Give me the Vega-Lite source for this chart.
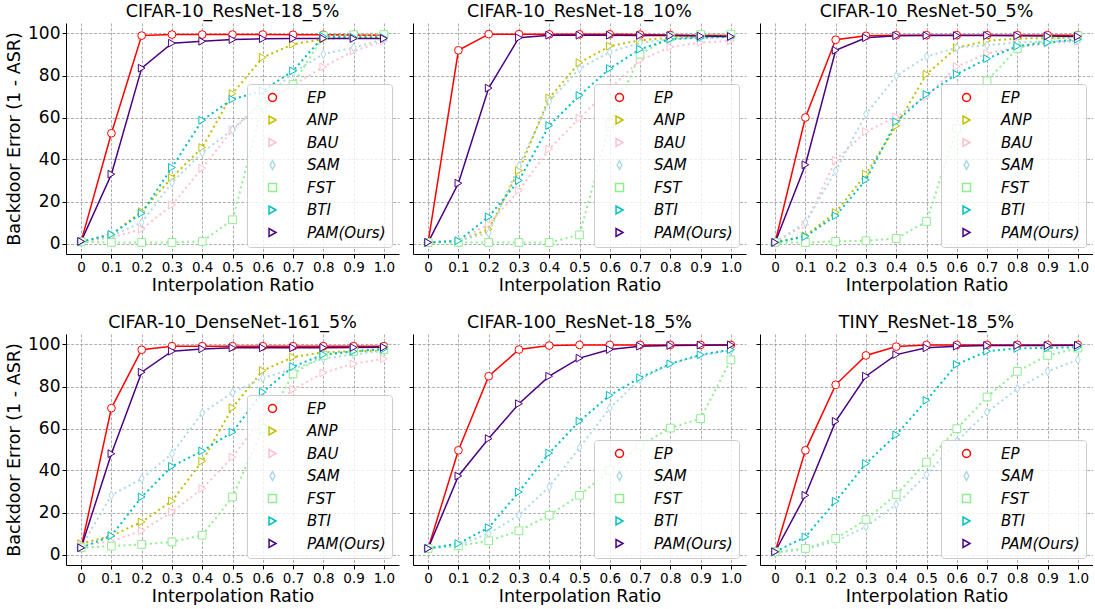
{
"$schema": "https://vega.github.io/schema/vega-lite/v6.json",
"padding": {"left": 5, "top": 2, "right": 0, "bottom": 0},
"bounds": "flush",
"columns": 3,
"spacing": {"row": 80, "column": 14},
"data": {"values": [
{"p":1,"m":"EP","x":0,"y":1},{"p":1,"m":"EP","x":0.1,"y":52.5},{"p":1,"m":"EP","x":0.2,"y":99},{"p":1,"m":"EP","x":0.3,"y":99.5},{"p":1,"m":"EP","x":0.4,"y":99.5},{"p":1,"m":"EP","x":0.5,"y":99.5},{"p":1,"m":"EP","x":0.6,"y":99.5},{"p":1,"m":"EP","x":0.7,"y":99.4},{"p":1,"m":"EP","x":0.8,"y":99.4},{"p":1,"m":"EP","x":0.9,"y":99.3},{"p":1,"m":"EP","x":1,"y":99.2},
{"p":1,"m":"ANP","x":0,"y":0.8},{"p":1,"m":"ANP","x":0.1,"y":4.3},{"p":1,"m":"ANP","x":0.2,"y":15.2},{"p":1,"m":"ANP","x":0.3,"y":31.4},{"p":1,"m":"ANP","x":0.4,"y":45.7},{"p":1,"m":"ANP","x":0.5,"y":71.4},{"p":1,"m":"ANP","x":0.6,"y":88.6},{"p":1,"m":"ANP","x":0.7,"y":94.9},{"p":1,"m":"ANP","x":0.8,"y":97.3},{"p":1,"m":"ANP","x":0.9,"y":98.2},{"p":1,"m":"ANP","x":1,"y":98.6},
{"p":1,"m":"BAU","x":0,"y":0.8},{"p":1,"m":"BAU","x":0.1,"y":2.9},{"p":1,"m":"BAU","x":0.2,"y":6.8},{"p":1,"m":"BAU","x":0.3,"y":18.3},{"p":1,"m":"BAU","x":0.4,"y":35.9},{"p":1,"m":"BAU","x":0.5,"y":54.1},{"p":1,"m":"BAU","x":0.6,"y":67.1},{"p":1,"m":"BAU","x":0.7,"y":75.4},{"p":1,"m":"BAU","x":0.8,"y":84.1},{"p":1,"m":"BAU","x":0.9,"y":91.7},{"p":1,"m":"BAU","x":1,"y":96.5},
{"p":1,"m":"SAM","x":0,"y":0.8},{"p":1,"m":"SAM","x":0.1,"y":3.7},{"p":1,"m":"SAM","x":0.2,"y":10},{"p":1,"m":"SAM","x":0.3,"y":29},{"p":1,"m":"SAM","x":0.4,"y":43.3},{"p":1,"m":"SAM","x":0.5,"y":54.1},{"p":1,"m":"SAM","x":0.6,"y":68},{"p":1,"m":"SAM","x":0.7,"y":81.4},{"p":1,"m":"SAM","x":0.8,"y":90.2},{"p":1,"m":"SAM","x":0.9,"y":93.3},{"p":1,"m":"SAM","x":1,"y":97.3},
{"p":1,"m":"FST","x":0,"y":0.8},{"p":1,"m":"FST","x":0.1,"y":0.5},{"p":1,"m":"FST","x":0.2,"y":0.5},{"p":1,"m":"FST","x":0.3,"y":0.5},{"p":1,"m":"FST","x":0.4,"y":1},{"p":1,"m":"FST","x":0.5,"y":11.3},{"p":1,"m":"FST","x":0.6,"y":66},{"p":1,"m":"FST","x":0.7,"y":75.7},{"p":1,"m":"FST","x":0.8,"y":98.9},{"p":1,"m":"FST","x":0.9,"y":99.4},{"p":1,"m":"FST","x":1,"y":99.5},
{"p":1,"m":"BTI","x":0,"y":0.8},{"p":1,"m":"BTI","x":0.1,"y":4.3},{"p":1,"m":"BTI","x":0.2,"y":14.4},{"p":1,"m":"BTI","x":0.3,"y":36.2},{"p":1,"m":"BTI","x":0.4,"y":58.7},{"p":1,"m":"BTI","x":0.5,"y":68.7},{"p":1,"m":"BTI","x":0.6,"y":72.7},{"p":1,"m":"BTI","x":0.7,"y":82.2},{"p":1,"m":"BTI","x":0.8,"y":98.6},{"p":1,"m":"BTI","x":0.9,"y":98.2},{"p":1,"m":"BTI","x":1,"y":98},
{"p":1,"m":"PAM(Ours)","x":0,"y":1},{"p":1,"m":"PAM(Ours)","x":0.1,"y":33},{"p":1,"m":"PAM(Ours)","x":0.2,"y":83.5},{"p":1,"m":"PAM(Ours)","x":0.3,"y":95.4},{"p":1,"m":"PAM(Ours)","x":0.4,"y":96.3},{"p":1,"m":"PAM(Ours)","x":0.5,"y":97.1},{"p":1,"m":"PAM(Ours)","x":0.6,"y":97.5},{"p":1,"m":"PAM(Ours)","x":0.7,"y":97.6},{"p":1,"m":"PAM(Ours)","x":0.8,"y":97.6},{"p":1,"m":"PAM(Ours)","x":0.9,"y":97.6},{"p":1,"m":"PAM(Ours)","x":1,"y":97.6},
{"p":2,"m":"EP","x":0,"y":0.5},{"p":2,"m":"EP","x":0.1,"y":92},{"p":2,"m":"EP","x":0.2,"y":99.7},{"p":2,"m":"EP","x":0.3,"y":99.7},{"p":2,"m":"EP","x":0.4,"y":99.6},{"p":2,"m":"EP","x":0.5,"y":99.6},{"p":2,"m":"EP","x":0.6,"y":99.6},{"p":2,"m":"EP","x":0.7,"y":99.5},{"p":2,"m":"EP","x":0.8,"y":99.3},{"p":2,"m":"EP","x":0.9,"y":99.2},{"p":2,"m":"EP","x":1,"y":99},
{"p":2,"m":"ANP","x":0,"y":0.5},{"p":2,"m":"ANP","x":0.1,"y":1},{"p":2,"m":"ANP","x":0.2,"y":6.8},{"p":2,"m":"ANP","x":0.3,"y":34.7},{"p":2,"m":"ANP","x":0.4,"y":69.3},{"p":2,"m":"ANP","x":0.5,"y":86.1},{"p":2,"m":"ANP","x":0.6,"y":94},{"p":2,"m":"ANP","x":0.7,"y":96.8},{"p":2,"m":"ANP","x":0.8,"y":98},{"p":2,"m":"ANP","x":0.9,"y":98.3},{"p":2,"m":"ANP","x":1,"y":98.7},
{"p":2,"m":"BAU","x":0,"y":0.5},{"p":2,"m":"BAU","x":0.1,"y":1.3},{"p":2,"m":"BAU","x":0.2,"y":9.2},{"p":2,"m":"BAU","x":0.3,"y":25.2},{"p":2,"m":"BAU","x":0.4,"y":45},{"p":2,"m":"BAU","x":0.5,"y":59.7},{"p":2,"m":"BAU","x":0.6,"y":73.7},{"p":2,"m":"BAU","x":0.7,"y":87.3},{"p":2,"m":"BAU","x":0.8,"y":93.6},{"p":2,"m":"BAU","x":0.9,"y":95.7},{"p":2,"m":"BAU","x":1,"y":96.5},
{"p":2,"m":"SAM","x":0,"y":0.5},{"p":2,"m":"SAM","x":0.1,"y":1.3},{"p":2,"m":"SAM","x":0.2,"y":5},{"p":2,"m":"SAM","x":0.3,"y":37},{"p":2,"m":"SAM","x":0.4,"y":67.8},{"p":2,"m":"SAM","x":0.5,"y":83.3},{"p":2,"m":"SAM","x":0.6,"y":91.2},{"p":2,"m":"SAM","x":0.7,"y":95.5},{"p":2,"m":"SAM","x":0.8,"y":97.3},{"p":2,"m":"SAM","x":0.9,"y":98},{"p":2,"m":"SAM","x":1,"y":98.3},
{"p":2,"m":"FST","x":0,"y":0.5},{"p":2,"m":"FST","x":0.1,"y":0.5},{"p":2,"m":"FST","x":0.2,"y":0.5},{"p":2,"m":"FST","x":0.3,"y":0.5},{"p":2,"m":"FST","x":0.4,"y":0.5},{"p":2,"m":"FST","x":0.5,"y":4.1},{"p":2,"m":"FST","x":0.6,"y":57},{"p":2,"m":"FST","x":0.7,"y":90.1},{"p":2,"m":"FST","x":0.8,"y":98.4},{"p":2,"m":"FST","x":0.9,"y":99.5},{"p":2,"m":"FST","x":1,"y":99.7},
{"p":2,"m":"BTI","x":0,"y":0.5},{"p":2,"m":"BTI","x":0.1,"y":1.3},{"p":2,"m":"BTI","x":0.2,"y":12.7},{"p":2,"m":"BTI","x":0.3,"y":30},{"p":2,"m":"BTI","x":0.4,"y":56.2},{"p":2,"m":"BTI","x":0.5,"y":70.5},{"p":2,"m":"BTI","x":0.6,"y":83.3},{"p":2,"m":"BTI","x":0.7,"y":92.5},{"p":2,"m":"BTI","x":0.8,"y":97.3},{"p":2,"m":"BTI","x":0.9,"y":98},{"p":2,"m":"BTI","x":1,"y":98.4},
{"p":2,"m":"PAM(Ours)","x":0,"y":0.5},{"p":2,"m":"PAM(Ours)","x":0.1,"y":28.7},{"p":2,"m":"PAM(Ours)","x":0.2,"y":74},{"p":2,"m":"PAM(Ours)","x":0.3,"y":98},{"p":2,"m":"PAM(Ours)","x":0.4,"y":99.2},{"p":2,"m":"PAM(Ours)","x":0.5,"y":99.2},{"p":2,"m":"PAM(Ours)","x":0.6,"y":99.2},{"p":2,"m":"PAM(Ours)","x":0.7,"y":99.1},{"p":2,"m":"PAM(Ours)","x":0.8,"y":99},{"p":2,"m":"PAM(Ours)","x":0.9,"y":98.8},{"p":2,"m":"PAM(Ours)","x":1,"y":98.6},
{"p":3,"m":"EP","x":0,"y":0.5},{"p":3,"m":"EP","x":0.1,"y":60},{"p":3,"m":"EP","x":0.2,"y":97},{"p":3,"m":"EP","x":0.3,"y":98.9},{"p":3,"m":"EP","x":0.4,"y":99.2},{"p":3,"m":"EP","x":0.5,"y":99.2},{"p":3,"m":"EP","x":0.6,"y":99.2},{"p":3,"m":"EP","x":0.7,"y":99.2},{"p":3,"m":"EP","x":0.8,"y":99.2},{"p":3,"m":"EP","x":0.9,"y":99.2},{"p":3,"m":"EP","x":1,"y":99.2},
{"p":3,"m":"ANP","x":0,"y":0.5},{"p":3,"m":"ANP","x":0.1,"y":3.7},{"p":3,"m":"ANP","x":0.2,"y":14.8},{"p":3,"m":"ANP","x":0.3,"y":33},{"p":3,"m":"ANP","x":0.4,"y":56},{"p":3,"m":"ANP","x":0.5,"y":80.6},{"p":3,"m":"ANP","x":0.6,"y":93.3},{"p":3,"m":"ANP","x":0.7,"y":96.5},{"p":3,"m":"ANP","x":0.8,"y":97.6},{"p":3,"m":"ANP","x":0.9,"y":97.8},{"p":3,"m":"ANP","x":1,"y":98.1},
{"p":3,"m":"BAU","x":0,"y":0.5},{"p":3,"m":"BAU","x":0.1,"y":9},{"p":3,"m":"BAU","x":0.2,"y":39.7},{"p":3,"m":"BAU","x":0.3,"y":53.3},{"p":3,"m":"BAU","x":0.4,"y":60.3},{"p":3,"m":"BAU","x":0.5,"y":70},{"p":3,"m":"BAU","x":0.6,"y":84.3},{"p":3,"m":"BAU","x":0.7,"y":90.5},{"p":3,"m":"BAU","x":0.8,"y":93.3},{"p":3,"m":"BAU","x":0.9,"y":95.4},{"p":3,"m":"BAU","x":1,"y":96.2},
{"p":3,"m":"SAM","x":0,"y":0.5},{"p":3,"m":"SAM","x":0.1,"y":10},{"p":3,"m":"SAM","x":0.2,"y":34.6},{"p":3,"m":"SAM","x":0.3,"y":61.6},{"p":3,"m":"SAM","x":0.4,"y":79.8},{"p":3,"m":"SAM","x":0.5,"y":89},{"p":3,"m":"SAM","x":0.6,"y":93.3},{"p":3,"m":"SAM","x":0.7,"y":94.4},{"p":3,"m":"SAM","x":0.8,"y":95.7},{"p":3,"m":"SAM","x":0.9,"y":96.2},{"p":3,"m":"SAM","x":1,"y":96.5},
{"p":3,"m":"FST","x":0,"y":0.5},{"p":3,"m":"FST","x":0.1,"y":0.5},{"p":3,"m":"FST","x":0.2,"y":1},{"p":3,"m":"FST","x":0.3,"y":1.3},{"p":3,"m":"FST","x":0.4,"y":2.4},{"p":3,"m":"FST","x":0.5,"y":10.5},{"p":3,"m":"FST","x":0.6,"y":54.8},{"p":3,"m":"FST","x":0.7,"y":77.5},{"p":3,"m":"FST","x":0.8,"y":92.9},{"p":3,"m":"FST","x":0.9,"y":97.3},{"p":3,"m":"FST","x":1,"y":98.9},
{"p":3,"m":"BTI","x":0,"y":0.5},{"p":3,"m":"BTI","x":0.1,"y":3.3},{"p":3,"m":"BTI","x":0.2,"y":13.2},{"p":3,"m":"BTI","x":0.3,"y":30.3},{"p":3,"m":"BTI","x":0.4,"y":58},{"p":3,"m":"BTI","x":0.5,"y":71},{"p":3,"m":"BTI","x":0.6,"y":80.6},{"p":3,"m":"BTI","x":0.7,"y":88},{"p":3,"m":"BTI","x":0.8,"y":94},{"p":3,"m":"BTI","x":0.9,"y":95.7},{"p":3,"m":"BTI","x":1,"y":97.3},
{"p":3,"m":"PAM(Ours)","x":0,"y":0.5},{"p":3,"m":"PAM(Ours)","x":0.1,"y":37.5},{"p":3,"m":"PAM(Ours)","x":0.2,"y":92},{"p":3,"m":"PAM(Ours)","x":0.3,"y":98},{"p":3,"m":"PAM(Ours)","x":0.4,"y":98.9},{"p":3,"m":"PAM(Ours)","x":0.5,"y":99},{"p":3,"m":"PAM(Ours)","x":0.6,"y":99},{"p":3,"m":"PAM(Ours)","x":0.7,"y":99},{"p":3,"m":"PAM(Ours)","x":0.8,"y":98.9},{"p":3,"m":"PAM(Ours)","x":0.9,"y":98.8},{"p":3,"m":"PAM(Ours)","x":1,"y":98.6},
{"p":4,"m":"EP","x":0,"y":3.2},{"p":4,"m":"EP","x":0.1,"y":69.7},{"p":4,"m":"EP","x":0.2,"y":97.5},{"p":4,"m":"EP","x":0.3,"y":99.2},{"p":4,"m":"EP","x":0.4,"y":99.2},{"p":4,"m":"EP","x":0.5,"y":99.2},{"p":4,"m":"EP","x":0.6,"y":99.2},{"p":4,"m":"EP","x":0.7,"y":99.2},{"p":4,"m":"EP","x":0.8,"y":99.2},{"p":4,"m":"EP","x":0.9,"y":99.2},{"p":4,"m":"EP","x":1,"y":99.2},
{"p":4,"m":"ANP","x":0,"y":5.2},{"p":4,"m":"ANP","x":0.1,"y":8.9},{"p":4,"m":"ANP","x":0.2,"y":15.5},{"p":4,"m":"ANP","x":0.3,"y":25.5},{"p":4,"m":"ANP","x":0.4,"y":44.4},{"p":4,"m":"ANP","x":0.5,"y":69.9},{"p":4,"m":"ANP","x":0.6,"y":87.6},{"p":4,"m":"ANP","x":0.7,"y":94},{"p":4,"m":"ANP","x":0.8,"y":96.3},{"p":4,"m":"ANP","x":0.9,"y":96.8},{"p":4,"m":"ANP","x":1,"y":97.1},
{"p":4,"m":"BAU","x":0,"y":4.4},{"p":4,"m":"BAU","x":0.1,"y":6.3},{"p":4,"m":"BAU","x":0.2,"y":11.3},{"p":4,"m":"BAU","x":0.3,"y":20.3},{"p":4,"m":"BAU","x":0.4,"y":31.4},{"p":4,"m":"BAU","x":0.5,"y":46.4},{"p":4,"m":"BAU","x":0.6,"y":65.4},{"p":4,"m":"BAU","x":0.7,"y":78.6},{"p":4,"m":"BAU","x":0.8,"y":86.5},{"p":4,"m":"BAU","x":0.9,"y":90.8},{"p":4,"m":"BAU","x":1,"y":93.2},
{"p":4,"m":"SAM","x":0,"y":3.6},{"p":4,"m":"SAM","x":0.1,"y":28.2},{"p":4,"m":"SAM","x":0.2,"y":36.1},{"p":4,"m":"SAM","x":0.3,"y":48},{"p":4,"m":"SAM","x":0.4,"y":67.4},{"p":4,"m":"SAM","x":0.5,"y":77},{"p":4,"m":"SAM","x":0.6,"y":84},{"p":4,"m":"SAM","x":0.7,"y":88.4},{"p":4,"m":"SAM","x":0.8,"y":93.2},{"p":4,"m":"SAM","x":0.9,"y":95.2},{"p":4,"m":"SAM","x":1,"y":97.1},
{"p":4,"m":"FST","x":0,"y":3.2},{"p":4,"m":"FST","x":0.1,"y":4},{"p":4,"m":"FST","x":0.2,"y":4.8},{"p":4,"m":"FST","x":0.3,"y":6},{"p":4,"m":"FST","x":0.4,"y":9.2},{"p":4,"m":"FST","x":0.5,"y":27.4},{"p":4,"m":"FST","x":0.6,"y":59.9},{"p":4,"m":"FST","x":0.7,"y":86},{"p":4,"m":"FST","x":0.8,"y":94.8},{"p":4,"m":"FST","x":0.9,"y":96.7},{"p":4,"m":"FST","x":1,"y":97.6},
{"p":4,"m":"BTI","x":0,"y":3.2},{"p":4,"m":"BTI","x":0.1,"y":8.9},{"p":4,"m":"BTI","x":0.2,"y":27.4},{"p":4,"m":"BTI","x":0.3,"y":42},{"p":4,"m":"BTI","x":0.4,"y":49.3},{"p":4,"m":"BTI","x":0.5,"y":58.3},{"p":4,"m":"BTI","x":0.6,"y":77.3},{"p":4,"m":"BTI","x":0.7,"y":89.5},{"p":4,"m":"BTI","x":0.8,"y":95.2},{"p":4,"m":"BTI","x":0.9,"y":96.8},{"p":4,"m":"BTI","x":1,"y":97.9},
{"p":4,"m":"PAM(Ours)","x":0,"y":3.2},{"p":4,"m":"PAM(Ours)","x":0.1,"y":48},{"p":4,"m":"PAM(Ours)","x":0.2,"y":86.8},{"p":4,"m":"PAM(Ours)","x":0.3,"y":96.8},{"p":4,"m":"PAM(Ours)","x":0.4,"y":97.9},{"p":4,"m":"PAM(Ours)","x":0.5,"y":98.4},{"p":4,"m":"PAM(Ours)","x":0.6,"y":98.4},{"p":4,"m":"PAM(Ours)","x":0.7,"y":98.4},{"p":4,"m":"PAM(Ours)","x":0.8,"y":98.5},{"p":4,"m":"PAM(Ours)","x":0.9,"y":98.6},{"p":4,"m":"PAM(Ours)","x":1,"y":98.7},
{"p":5,"m":"EP","x":0,"y":2.9},{"p":5,"m":"EP","x":0.1,"y":49.6},{"p":5,"m":"EP","x":0.2,"y":84.9},{"p":5,"m":"EP","x":0.3,"y":97.6},{"p":5,"m":"EP","x":0.4,"y":99.5},{"p":5,"m":"EP","x":0.5,"y":99.8},{"p":5,"m":"EP","x":0.6,"y":99.8},{"p":5,"m":"EP","x":0.7,"y":99.8},{"p":5,"m":"EP","x":0.8,"y":99.8},{"p":5,"m":"EP","x":0.9,"y":99.8},{"p":5,"m":"EP","x":1,"y":99.8},
{"p":5,"m":"SAM","x":0,"y":2.9},{"p":5,"m":"SAM","x":0.1,"y":4.4},{"p":5,"m":"SAM","x":0.2,"y":10},{"p":5,"m":"SAM","x":0.3,"y":18.7},{"p":5,"m":"SAM","x":0.4,"y":32.2},{"p":5,"m":"SAM","x":0.5,"y":50.9},{"p":5,"m":"SAM","x":0.6,"y":69.7},{"p":5,"m":"SAM","x":0.7,"y":83.4},{"p":5,"m":"SAM","x":0.8,"y":90.8},{"p":5,"m":"SAM","x":0.9,"y":94.8},{"p":5,"m":"SAM","x":1,"y":97.1},
{"p":5,"m":"FST","x":0,"y":2.9},{"p":5,"m":"FST","x":0.1,"y":4.1},{"p":5,"m":"FST","x":0.2,"y":6.5},{"p":5,"m":"FST","x":0.3,"y":11.3},{"p":5,"m":"FST","x":0.4,"y":18.7},{"p":5,"m":"FST","x":0.5,"y":28.2},{"p":5,"m":"FST","x":0.6,"y":40.1},{"p":5,"m":"FST","x":0.7,"y":52},{"p":5,"m":"FST","x":0.8,"y":60.2},{"p":5,"m":"FST","x":0.9,"y":64.7},{"p":5,"m":"FST","x":1,"y":92.7},
{"p":5,"m":"BTI","x":0,"y":2.9},{"p":5,"m":"BTI","x":0.1,"y":5.2},{"p":5,"m":"BTI","x":0.2,"y":12.8},{"p":5,"m":"BTI","x":0.3,"y":29.8},{"p":5,"m":"BTI","x":0.4,"y":48.3},{"p":5,"m":"BTI","x":0.5,"y":63.5},{"p":5,"m":"BTI","x":0.6,"y":75.8},{"p":5,"m":"BTI","x":0.7,"y":84.2},{"p":5,"m":"BTI","x":0.8,"y":90.8},{"p":5,"m":"BTI","x":0.9,"y":95.1},{"p":5,"m":"BTI","x":1,"y":97.5},
{"p":5,"m":"PAM(Ours)","x":0,"y":2.9},{"p":5,"m":"PAM(Ours)","x":0.1,"y":37.4},{"p":5,"m":"PAM(Ours)","x":0.2,"y":55.2},{"p":5,"m":"PAM(Ours)","x":0.3,"y":71.8},{"p":5,"m":"PAM(Ours)","x":0.4,"y":84.9},{"p":5,"m":"PAM(Ours)","x":0.5,"y":93.5},{"p":5,"m":"PAM(Ours)","x":0.6,"y":97.6},{"p":5,"m":"PAM(Ours)","x":0.7,"y":99.2},{"p":5,"m":"PAM(Ours)","x":0.8,"y":99.5},{"p":5,"m":"PAM(Ours)","x":0.9,"y":99.7},{"p":5,"m":"PAM(Ours)","x":1,"y":99.8},
{"p":6,"m":"EP","x":0,"y":1.3},{"p":6,"m":"EP","x":0.1,"y":49.6},{"p":6,"m":"EP","x":0.2,"y":80.8},{"p":6,"m":"EP","x":0.3,"y":94.8},{"p":6,"m":"EP","x":0.4,"y":99},{"p":6,"m":"EP","x":0.5,"y":99.8},{"p":6,"m":"EP","x":0.6,"y":99.8},{"p":6,"m":"EP","x":0.7,"y":99.8},{"p":6,"m":"EP","x":0.8,"y":99.8},{"p":6,"m":"EP","x":0.9,"y":99.8},{"p":6,"m":"EP","x":1,"y":99.8},
{"p":6,"m":"SAM","x":0,"y":0.8},{"p":6,"m":"SAM","x":0.1,"y":2.5},{"p":6,"m":"SAM","x":0.2,"y":6.3},{"p":6,"m":"SAM","x":0.3,"y":13.2},{"p":6,"m":"SAM","x":0.4,"y":23.8},{"p":6,"m":"SAM","x":0.5,"y":38},{"p":6,"m":"SAM","x":0.6,"y":53.9},{"p":6,"m":"SAM","x":0.7,"y":67.8},{"p":6,"m":"SAM","x":0.8,"y":78.9},{"p":6,"m":"SAM","x":0.9,"y":87.2},{"p":6,"m":"SAM","x":1,"y":92.7},
{"p":6,"m":"FST","x":0,"y":1.3},{"p":6,"m":"FST","x":0.1,"y":2.9},{"p":6,"m":"FST","x":0.2,"y":7.6},{"p":6,"m":"FST","x":0.3,"y":16.6},{"p":6,"m":"FST","x":0.4,"y":28.5},{"p":6,"m":"FST","x":0.5,"y":44},{"p":6,"m":"FST","x":0.6,"y":59.9},{"p":6,"m":"FST","x":0.7,"y":75},{"p":6,"m":"FST","x":0.8,"y":87.2},{"p":6,"m":"FST","x":0.9,"y":94.8},{"p":6,"m":"FST","x":1,"y":98.3},
{"p":6,"m":"BTI","x":0,"y":1.3},{"p":6,"m":"BTI","x":0.1,"y":8.4},{"p":6,"m":"BTI","x":0.2,"y":25.4},{"p":6,"m":"BTI","x":0.3,"y":43.3},{"p":6,"m":"BTI","x":0.4,"y":57},{"p":6,"m":"BTI","x":0.5,"y":73.4},{"p":6,"m":"BTI","x":0.6,"y":90.5},{"p":6,"m":"BTI","x":0.7,"y":96.8},{"p":6,"m":"BTI","x":0.8,"y":98.1},{"p":6,"m":"BTI","x":0.9,"y":98.4},{"p":6,"m":"BTI","x":1,"y":98.7},
{"p":6,"m":"PAM(Ours)","x":0,"y":1.3},{"p":6,"m":"PAM(Ours)","x":0.1,"y":28.2},{"p":6,"m":"PAM(Ours)","x":0.2,"y":63.4},{"p":6,"m":"PAM(Ours)","x":0.3,"y":84.9},{"p":6,"m":"PAM(Ours)","x":0.4,"y":95.2},{"p":6,"m":"PAM(Ours)","x":0.5,"y":98.4},{"p":6,"m":"PAM(Ours)","x":0.6,"y":99.2},{"p":6,"m":"PAM(Ours)","x":0.7,"y":99.5},{"p":6,"m":"PAM(Ours)","x":0.8,"y":99.5},{"p":6,"m":"PAM(Ours)","x":0.9,"y":99.5},{"p":6,"m":"PAM(Ours)","x":1,"y":99.6}
]},
"resolve": {"scale": {"x": "independent", "y": "independent", "color": "independent", "shape": "independent"}, "legend": {"color": "independent", "shape": "independent"}},
"concat": [
{"title": "CIFAR-10_ResNet-18_5%", "width": 333, "height": 231,
 "transform": [{"filter": "datum.p === 1"}],
 "encoding": {
  "x": {"field": "x", "type": "quantitative", "scale": {"domain": [-0.05, 1.05], "nice": false, "zero": false}, "axis": {"values": [0,0.1,0.2,0.3,0.4,0.5,0.6,0.7,0.8,0.9,1], "labelExpr": "datum.value === 0 ? '0' : format(datum.value, '.1f')", "title": "Interpolation Ratio"}},
  "y": {"field": "y", "type": "quantitative", "scale": {"domain": [-5, 105], "nice": false, "zero": false}, "axis": {"values": [0,20,40,60,80,100], "title": "Backdoor Error (1 - ASR)"}},
  "color": {"field": "m", "type": "nominal", "scale": {"domain": ["EP","ANP","BAU","SAM","FST","BTI","PAM(Ours)"], "range": ["#ff0000","#bfbf00","#ffc0cb","#add8e6","#90ee90","#00bfbf","#4b0082"]}}
 },
 "layer": [
  {"transform": [{"filter": "datum.m === 'EP'"}], "mark": {"type": "line", "strokeWidth": 1.5}},
  {"transform": [{"filter": "datum.m !== 'EP' && datum.m !== 'PAM(Ours)'"}], "mark": {"type": "line", "strokeWidth": 2, "strokeDash": [2, 3.3]}},
  {"transform": [{"filter": "datum.m === 'PAM(Ours)'"}], "mark": {"type": "line", "strokeWidth": 1.5}},
  {"mark": {"type": "point", "filled": false, "fill": "white", "opacity": 1, "strokeWidth": 1, "size": 60}, "encoding": {
    "color": {"field": "m", "type": "nominal", "scale": {"domain": ["EP","ANP","BAU","SAM","FST","BTI","PAM(Ours)"], "range": ["#ff0000","#bfbf00","#ffc0cb","#add8e6","#90ee90","#00bfbf","#4b0082"]}, "legend": {"title": null, "orient": "bottom-right", "offset": 7}},
    "shape": {"field": "m", "type": "nominal", "scale": {"domain": ["EP","ANP","BAU","SAM","FST","BTI","PAM(Ours)"], "range": ["circle","triangle-right","triangle-right","M0,-1.1L0.6,0L0,1.1L-0.6,0Z","square","triangle-right","triangle-right"]}, "legend": {"title": null, "orient": "bottom-right", "offset": 7}}
  }}
 ]},
{"title": "CIFAR-10_ResNet-18_10%", "width": 333, "height": 231,
 "transform": [{"filter": "datum.p === 2"}],
 "encoding": {
  "x": {"field": "x", "type": "quantitative", "scale": {"domain": [-0.05, 1.05], "nice": false, "zero": false}, "axis": {"values": [0,0.1,0.2,0.3,0.4,0.5,0.6,0.7,0.8,0.9,1], "labelExpr": "datum.value === 0 ? '0' : format(datum.value, '.1f')", "title": "Interpolation Ratio"}},
  "y": {"field": "y", "type": "quantitative", "scale": {"domain": [-5, 105], "nice": false, "zero": false}, "axis": {"values": [0,20,40,60,80,100], "title": null, "labels": false}},
  "color": {"field": "m", "type": "nominal", "scale": {"domain": ["EP","ANP","BAU","SAM","FST","BTI","PAM(Ours)"], "range": ["#ff0000","#bfbf00","#ffc0cb","#add8e6","#90ee90","#00bfbf","#4b0082"]}}
 },
 "layer": [
  {"transform": [{"filter": "datum.m === 'EP'"}], "mark": {"type": "line", "strokeWidth": 1.5}},
  {"transform": [{"filter": "datum.m !== 'EP' && datum.m !== 'PAM(Ours)'"}], "mark": {"type": "line", "strokeWidth": 2, "strokeDash": [2, 3.3]}},
  {"transform": [{"filter": "datum.m === 'PAM(Ours)'"}], "mark": {"type": "line", "strokeWidth": 1.5}},
  {"mark": {"type": "point", "filled": false, "fill": "white", "opacity": 1, "strokeWidth": 1, "size": 60}, "encoding": {
    "color": {"field": "m", "type": "nominal", "scale": {"domain": ["EP","ANP","BAU","SAM","FST","BTI","PAM(Ours)"], "range": ["#ff0000","#bfbf00","#ffc0cb","#add8e6","#90ee90","#00bfbf","#4b0082"]}, "legend": {"title": null, "orient": "bottom-right", "offset": 7}},
    "shape": {"field": "m", "type": "nominal", "scale": {"domain": ["EP","ANP","BAU","SAM","FST","BTI","PAM(Ours)"], "range": ["circle","triangle-right","triangle-right","M0,-1.1L0.6,0L0,1.1L-0.6,0Z","square","triangle-right","triangle-right"]}, "legend": {"title": null, "orient": "bottom-right", "offset": 7}}
  }}
 ]},
{"title": "CIFAR-10_ResNet-50_5%", "width": 333, "height": 231,
 "transform": [{"filter": "datum.p === 3"}],
 "encoding": {
  "x": {"field": "x", "type": "quantitative", "scale": {"domain": [-0.05, 1.05], "nice": false, "zero": false}, "axis": {"values": [0,0.1,0.2,0.3,0.4,0.5,0.6,0.7,0.8,0.9,1], "labelExpr": "datum.value === 0 ? '0' : format(datum.value, '.1f')", "title": "Interpolation Ratio"}},
  "y": {"field": "y", "type": "quantitative", "scale": {"domain": [-5, 105], "nice": false, "zero": false}, "axis": {"values": [0,20,40,60,80,100], "title": null, "labels": false}},
  "color": {"field": "m", "type": "nominal", "scale": {"domain": ["EP","ANP","BAU","SAM","FST","BTI","PAM(Ours)"], "range": ["#ff0000","#bfbf00","#ffc0cb","#add8e6","#90ee90","#00bfbf","#4b0082"]}}
 },
 "layer": [
  {"transform": [{"filter": "datum.m === 'EP'"}], "mark": {"type": "line", "strokeWidth": 1.5}},
  {"transform": [{"filter": "datum.m !== 'EP' && datum.m !== 'PAM(Ours)'"}], "mark": {"type": "line", "strokeWidth": 2, "strokeDash": [2, 3.3]}},
  {"transform": [{"filter": "datum.m === 'PAM(Ours)'"}], "mark": {"type": "line", "strokeWidth": 1.5}},
  {"mark": {"type": "point", "filled": false, "fill": "white", "opacity": 1, "strokeWidth": 1, "size": 60}, "encoding": {
    "color": {"field": "m", "type": "nominal", "scale": {"domain": ["EP","ANP","BAU","SAM","FST","BTI","PAM(Ours)"], "range": ["#ff0000","#bfbf00","#ffc0cb","#add8e6","#90ee90","#00bfbf","#4b0082"]}, "legend": {"title": null, "orient": "bottom-right", "offset": 7}},
    "shape": {"field": "m", "type": "nominal", "scale": {"domain": ["EP","ANP","BAU","SAM","FST","BTI","PAM(Ours)"], "range": ["circle","triangle-right","triangle-right","M0,-1.1L0.6,0L0,1.1L-0.6,0Z","square","triangle-right","triangle-right"]}, "legend": {"title": null, "orient": "bottom-right", "offset": 7}}
  }}
 ]},
{"title": "CIFAR-10_DenseNet-161_5%", "width": 333, "height": 231,
 "transform": [{"filter": "datum.p === 4"}],
 "encoding": {
  "x": {"field": "x", "type": "quantitative", "scale": {"domain": [-0.05, 1.05], "nice": false, "zero": false}, "axis": {"values": [0,0.1,0.2,0.3,0.4,0.5,0.6,0.7,0.8,0.9,1], "labelExpr": "datum.value === 0 ? '0' : format(datum.value, '.1f')", "title": "Interpolation Ratio"}},
  "y": {"field": "y", "type": "quantitative", "scale": {"domain": [-5, 105], "nice": false, "zero": false}, "axis": {"values": [0,20,40,60,80,100], "title": "Backdoor Error (1 - ASR)"}},
  "color": {"field": "m", "type": "nominal", "scale": {"domain": ["EP","ANP","BAU","SAM","FST","BTI","PAM(Ours)"], "range": ["#ff0000","#bfbf00","#ffc0cb","#add8e6","#90ee90","#00bfbf","#4b0082"]}}
 },
 "layer": [
  {"transform": [{"filter": "datum.m === 'EP'"}], "mark": {"type": "line", "strokeWidth": 1.5}},
  {"transform": [{"filter": "datum.m !== 'EP' && datum.m !== 'PAM(Ours)'"}], "mark": {"type": "line", "strokeWidth": 2, "strokeDash": [2, 3.3]}},
  {"transform": [{"filter": "datum.m === 'PAM(Ours)'"}], "mark": {"type": "line", "strokeWidth": 1.5}},
  {"mark": {"type": "point", "filled": false, "fill": "white", "opacity": 1, "strokeWidth": 1, "size": 60}, "encoding": {
    "color": {"field": "m", "type": "nominal", "scale": {"domain": ["EP","ANP","BAU","SAM","FST","BTI","PAM(Ours)"], "range": ["#ff0000","#bfbf00","#ffc0cb","#add8e6","#90ee90","#00bfbf","#4b0082"]}, "legend": {"title": null, "orient": "bottom-right", "offset": 7}},
    "shape": {"field": "m", "type": "nominal", "scale": {"domain": ["EP","ANP","BAU","SAM","FST","BTI","PAM(Ours)"], "range": ["circle","triangle-right","triangle-right","M0,-1.1L0.6,0L0,1.1L-0.6,0Z","square","triangle-right","triangle-right"]}, "legend": {"title": null, "orient": "bottom-right", "offset": 7}}
  }}
 ]},
{"title": "CIFAR-100_ResNet-18_5%", "width": 333, "height": 231,
 "transform": [{"filter": "datum.p === 5"}],
 "encoding": {
  "x": {"field": "x", "type": "quantitative", "scale": {"domain": [-0.05, 1.05], "nice": false, "zero": false}, "axis": {"values": [0,0.1,0.2,0.3,0.4,0.5,0.6,0.7,0.8,0.9,1], "labelExpr": "datum.value === 0 ? '0' : format(datum.value, '.1f')", "title": "Interpolation Ratio"}},
  "y": {"field": "y", "type": "quantitative", "scale": {"domain": [-5, 105], "nice": false, "zero": false}, "axis": {"values": [0,20,40,60,80,100], "title": null, "labels": false}},
  "color": {"field": "m", "type": "nominal", "scale": {"domain": ["EP","SAM","FST","BTI","PAM(Ours)"], "range": ["#ff0000","#add8e6","#90ee90","#00bfbf","#4b0082"]}}
 },
 "layer": [
  {"transform": [{"filter": "datum.m === 'EP'"}], "mark": {"type": "line", "strokeWidth": 1.5}},
  {"transform": [{"filter": "datum.m !== 'EP' && datum.m !== 'PAM(Ours)'"}], "mark": {"type": "line", "strokeWidth": 2, "strokeDash": [2, 3.3]}},
  {"transform": [{"filter": "datum.m === 'PAM(Ours)'"}], "mark": {"type": "line", "strokeWidth": 1.5}},
  {"mark": {"type": "point", "filled": false, "fill": "white", "opacity": 1, "strokeWidth": 1, "size": 60}, "encoding": {
    "color": {"field": "m", "type": "nominal", "scale": {"domain": ["EP","SAM","FST","BTI","PAM(Ours)"], "range": ["#ff0000","#add8e6","#90ee90","#00bfbf","#4b0082"]}, "legend": {"title": null, "orient": "bottom-right", "offset": 7}},
    "shape": {"field": "m", "type": "nominal", "scale": {"domain": ["EP","SAM","FST","BTI","PAM(Ours)"], "range": ["circle","M0,-1.1L0.6,0L0,1.1L-0.6,0Z","square","triangle-right","triangle-right"]}, "legend": {"title": null, "orient": "bottom-right", "offset": 7}}
  }}
 ]},
{"title": "TINY_ResNet-18_5%", "width": 333, "height": 231,
 "transform": [{"filter": "datum.p === 6"}],
 "encoding": {
  "x": {"field": "x", "type": "quantitative", "scale": {"domain": [-0.05, 1.05], "nice": false, "zero": false}, "axis": {"values": [0,0.1,0.2,0.3,0.4,0.5,0.6,0.7,0.8,0.9,1], "labelExpr": "datum.value === 0 ? '0' : format(datum.value, '.1f')", "title": "Interpolation Ratio"}},
  "y": {"field": "y", "type": "quantitative", "scale": {"domain": [-5, 105], "nice": false, "zero": false}, "axis": {"values": [0,20,40,60,80,100], "title": null, "labels": false}},
  "color": {"field": "m", "type": "nominal", "scale": {"domain": ["EP","SAM","FST","BTI","PAM(Ours)"], "range": ["#ff0000","#add8e6","#90ee90","#00bfbf","#4b0082"]}}
 },
 "layer": [
  {"transform": [{"filter": "datum.m === 'EP'"}], "mark": {"type": "line", "strokeWidth": 1.5}},
  {"transform": [{"filter": "datum.m !== 'EP' && datum.m !== 'PAM(Ours)'"}], "mark": {"type": "line", "strokeWidth": 2, "strokeDash": [2, 3.3]}},
  {"transform": [{"filter": "datum.m === 'PAM(Ours)'"}], "mark": {"type": "line", "strokeWidth": 1.5}},
  {"mark": {"type": "point", "filled": false, "fill": "white", "opacity": 1, "strokeWidth": 1, "size": 60}, "encoding": {
    "color": {"field": "m", "type": "nominal", "scale": {"domain": ["EP","SAM","FST","BTI","PAM(Ours)"], "range": ["#ff0000","#add8e6","#90ee90","#00bfbf","#4b0082"]}, "legend": {"title": null, "orient": "bottom-right", "offset": 7}},
    "shape": {"field": "m", "type": "nominal", "scale": {"domain": ["EP","SAM","FST","BTI","PAM(Ours)"], "range": ["circle","M0,-1.1L0.6,0L0,1.1L-0.6,0Z","square","triangle-right","triangle-right"]}, "legend": {"title": null, "orient": "bottom-right", "offset": 7}}
  }}
 ]}
],
"config": {
 "font": "DejaVu Sans",
 "view": {"stroke": null},
 "axis": {"domainColor": "black", "domainWidth": 1, "tickColor": "black", "tickSize": 4, "tickWidth": 1, "labelColor": "black", "titleColor": "black", "labelFont": "DejaVu Sans", "titleFont": "DejaVu Sans", "titleFontWeight": "normal", "titleFontSize": 17.5, "gridColor": "#999999", "gridDash": [3, 1.6], "gridWidth": 0.8, "gridOpacity": 1, "labelPadding": 2},
 "axisX": {"labelFontSize": 13.5, "labelAngle": 0, "titlePadding": 3},
 "axisY": {"labelFontSize": 17, "titlePadding": 4},
 "title": {"fontSize": 17.5, "font": "DejaVu Sans", "fontWeight": "normal", "color": "black", "offset": 3, "anchor": "middle", "frame": "group"},
 "legend": {"labelFontSize": 15, "labelFontStyle": "italic", "labelFont": "DejaVu Sans", "labelColor": "black", "padding": 6, "rowPadding": 6.5, "symbolSize": 64, "symbolOffset": 12, "labelOffset": 27, "strokeColor": "#cccccc", "fillColor": "rgba(255,255,255,0.8)", "cornerRadius": 3, "symbolFillColor": "white", "symbolStrokeWidth": 1.5}
}
}
